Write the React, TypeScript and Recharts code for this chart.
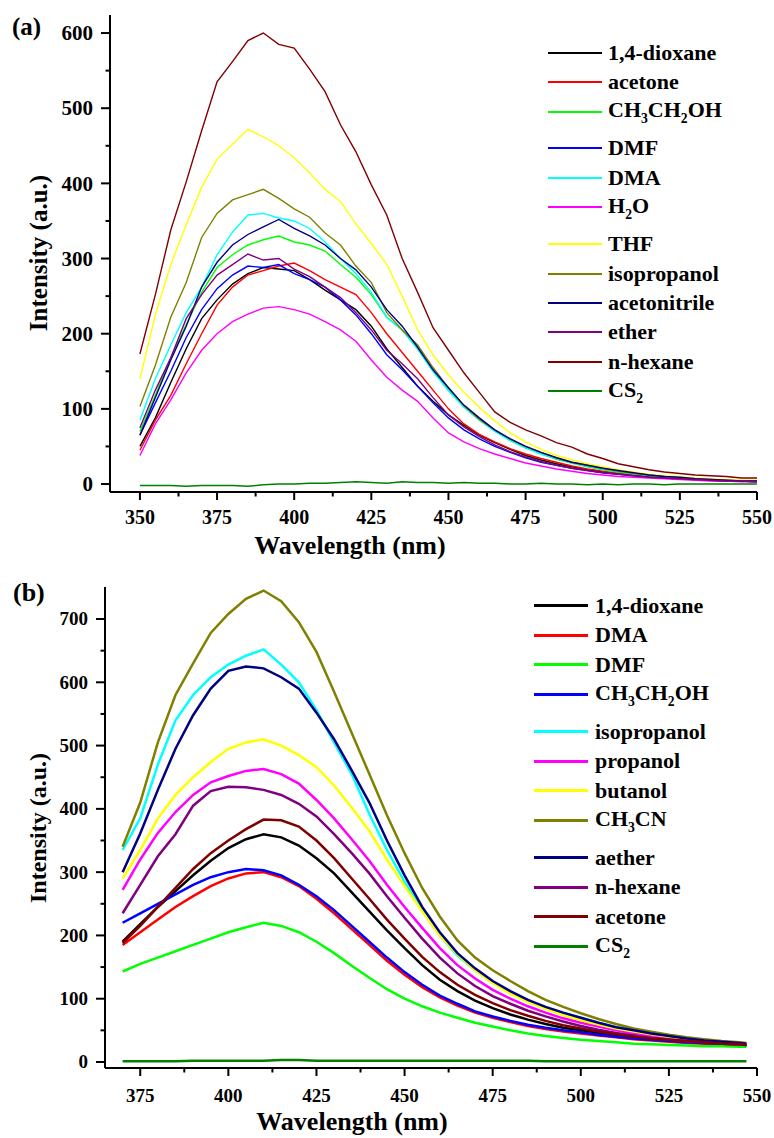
import React from 'react';
import { LineChart, Line, XAxis, YAxis } from 'recharts';

// ---------- panel (a) ----------
const wavelengthA = [350, 355, 360, 365, 370, 375, 380, 385, 390, 395, 400, 405, 410, 415, 420, 425, 430, 435, 440, 445, 450, 455, 460, 465, 470, 475, 480, 485, 490, 495, 500, 505, 510, 515, 520, 525, 530, 535, 540, 545, 550];

const dioxaneA = [50, 88, 135, 180, 220, 245, 266, 280, 288, 286, 284, 272, 258, 245, 232, 210, 180, 155, 130, 110, 92, 78, 65, 55, 46, 38, 32, 27, 23, 19, 16, 14, 12, 10, 8, 7, 6, 5, 4, 4, 3];
const acetoneA = [45, 85, 118, 160, 200, 238, 262, 278, 284, 290, 294, 284, 272, 262, 252, 228, 200, 175, 150, 125, 100, 80, 66, 56, 47, 40, 34, 29, 24, 20, 17, 14, 12, 10, 9, 7, 6, 5, 5, 4, 3];
const ethanolA = [70, 118, 168, 212, 255, 288, 305, 318, 325, 330, 322, 318, 310, 292, 275, 252, 222, 205, 180, 150, 125, 103, 86, 71, 58, 48, 40, 33, 28, 23, 19, 16, 13, 11, 9, 8, 6, 5, 5, 4, 3];
const dmfA = [65, 108, 150, 195, 232, 260, 278, 290, 288, 292, 280, 272, 262, 245, 225, 200, 172, 152, 130, 108, 88, 72, 60, 50, 42, 35, 29, 25, 21, 18, 15, 13, 11, 9, 8, 7, 6, 5, 4, 4, 3];
const dmaA = [85, 140, 185, 228, 262, 305, 335, 358, 360, 354, 350, 340, 322, 300, 280, 255, 222, 205, 180, 150, 124, 102, 85, 70, 58, 48, 40, 34, 28, 24, 20, 17, 14, 12, 10, 8, 7, 6, 5, 4, 3];
const waterA = [38, 80, 112, 148, 178, 200, 216, 226, 234, 236, 232, 226, 216, 205, 190, 165, 142, 125, 110, 88, 68, 56, 47, 40, 34, 28, 24, 20, 17, 14, 12, 10, 9, 8, 7, 6, 5, 4, 4, 3, 3];
const thfA = [140, 225, 292, 345, 395, 432, 452, 472, 462, 450, 434, 414, 392, 376, 346, 320, 292, 250, 205, 172, 145, 122, 102, 84, 68, 56, 46, 38, 32, 27, 23, 19, 16, 13, 11, 10, 8, 7, 6, 5, 5];
const isopropanolA = [103, 158, 222, 268, 328, 360, 378, 385, 392, 380, 366, 355, 334, 318, 290, 268, 228, 205, 185, 155, 128, 104, 86, 72, 60, 50, 42, 35, 29, 25, 21, 17, 14, 12, 10, 8, 7, 6, 5, 4, 4];
const acetonitrileA = [65, 115, 165, 210, 262, 295, 318, 332, 342, 352, 340, 330, 318, 300, 285, 262, 232, 210, 182, 152, 128, 105, 88, 72, 60, 50, 42, 35, 29, 25, 21, 18, 15, 12, 10, 9, 7, 6, 5, 4, 4];
const etherA = [75, 125, 168, 220, 252, 278, 292, 306, 298, 300, 286, 276, 262, 248, 228, 205, 178, 160, 140, 115, 92, 76, 63, 52, 43, 36, 30, 25, 21, 18, 15, 13, 11, 9, 8, 7, 6, 5, 4, 4, 3];
const hexaneA = [173, 252, 338, 402, 470, 535, 562, 590, 600, 585, 580, 552, 522, 478, 442, 398, 358, 300, 255, 208, 178, 148, 122, 96, 82, 72, 64, 55, 49, 40, 34, 27, 23, 19, 16, 14, 12, 11, 10, 8, 8];
const cs2A = [-2, -2, -2, -3, -2, -2, -2, -3, -1, 0, 0, 1, 1, 2, 3, 2, 1, 3, 2, 2, 1, 2, 1, 1, 0, 0, 1, 0, 0, -1, 0, -1, 0, 0, -1, 0, 0, 0, 0, 0, 0];

const namesA = ['1,4-dioxane', 'acetone', 'CH3CH2OH', 'DMF', 'DMA', 'H2O', 'THF', 'isopropanol', 'acetonitrile', 'ether', 'n-hexane', 'CS2'];
const valuesA = [dioxaneA, acetoneA, ethanolA, dmfA, dmaA, waterA, thfA, isopropanolA, acetonitrileA, etherA, hexaneA, cs2A];
const colorsA = ['#000000', '#ff0000', '#00ff00', '#0000ff', '#00ffff', '#ff00ff', '#ffff00', '#808000', '#000080', '#800080', '#800000', '#008000'];

const xTicksA = [350, 362.5, 375, 387.5, 400, 412.5, 425, 437.5, 450, 462.5, 475, 487.5, 500, 512.5, 525, 537.5, 550];
const yTicksA = [0, 50, 100, 150, 200, 250, 300, 350, 400, 450, 500, 550, 600];

// ---------- panel (b) ----------
const wavelengthB = [370, 375, 380, 385, 390, 395, 400, 405, 410, 415, 420, 425, 430, 435, 440, 445, 450, 455, 460, 465, 470, 475, 480, 485, 490, 495, 500, 505, 510, 515, 520, 525, 530, 535, 540, 545, 547];

const dioxaneB = [190, 218, 245, 270, 295, 318, 338, 352, 360, 355, 342, 322, 298, 268, 238, 208, 180, 153, 130, 112, 97, 85, 75, 67, 60, 54, 50, 46, 42, 39, 36, 34, 32, 30, 29, 28, 27];
const dmaB = [185, 205, 225, 245, 262, 278, 290, 298, 300, 292, 278, 258, 235, 210, 185, 160, 138, 118, 102, 89, 78, 70, 63, 57, 52, 48, 45, 42, 39, 36, 34, 32, 30, 29, 28, 27, 27];
const dmfB = [143, 155, 165, 175, 185, 195, 205, 213, 220, 215, 205, 190, 172, 152, 133, 115, 100, 88, 78, 70, 62, 56, 50, 45, 41, 38, 35, 33, 31, 29, 28, 27, 26, 25, 25, 24, 24];
const ethanolB = [220, 235, 250, 265, 280, 292, 300, 305, 303, 295, 280, 262, 240, 215, 190, 165, 142, 122, 105, 92, 80, 72, 65, 59, 54, 50, 47, 43, 40, 37, 35, 33, 31, 30, 29, 28, 27];
const isopropanolB = [335, 385, 470, 540, 580, 608, 628, 642, 652, 628, 600, 556, 505, 455, 392, 335, 285, 240, 200, 168, 145, 125, 110, 97, 86, 77, 70, 62, 55, 50, 45, 41, 37, 34, 32, 30, 29];
const propanolB = [272, 320, 362, 395, 422, 442, 452, 460, 463, 455, 440, 414, 385, 352, 318, 280, 245, 212, 180, 153, 132, 114, 100, 88, 78, 69, 62, 56, 50, 45, 41, 38, 35, 32, 30, 28, 28];
const butanolB = [290, 335, 385, 422, 450, 474, 495, 505, 510, 500, 485, 466, 437, 402, 365, 320, 278, 238, 200, 170, 145, 125, 108, 95, 84, 74, 66, 59, 53, 48, 44, 40, 37, 34, 32, 30, 29];
const ch3cnB = [340, 410, 505, 580, 630, 678, 708, 732, 745, 728, 695, 648, 585, 520, 455, 390, 330, 275, 230, 192, 165, 145, 128, 112, 98, 87, 77, 68, 60, 53, 48, 43, 39, 36, 33, 31, 30];
const aetherB = [300, 361, 430, 495, 548, 590, 618, 625, 622, 608, 590, 552, 510, 461, 410, 350, 295, 245, 205, 172, 148, 128, 112, 98, 87, 78, 70, 62, 55, 50, 45, 41, 37, 34, 32, 30, 29];
const hexaneB = [235, 280, 325, 360, 405, 428, 435, 434, 430, 422, 408, 388, 360, 330, 298, 262, 228, 195, 165, 140, 120, 104, 92, 81, 72, 64, 57, 51, 46, 42, 38, 35, 33, 31, 29, 28, 27];
const acetoneB = [188, 215, 245, 275, 305, 330, 350, 368, 383, 382, 372, 350, 322, 290, 258, 225, 195, 166, 142, 122, 106, 93, 82, 73, 65, 58, 53, 48, 44, 40, 37, 35, 33, 31, 29, 28, 27];
const cs2B = [1, 1, 1, 1, 2, 2, 2, 2, 2, 3, 3, 2, 2, 2, 2, 2, 2, 2, 2, 2, 2, 2, 2, 2, 1, 1, 1, 1, 1, 1, 1, 1, 1, 1, 1, 1, 1];

const namesB = ['1,4-dioxane', 'DMA', 'DMF', 'CH3CH2OH', 'isopropanol', 'propanol', 'butanol', 'CH3CN', 'aether', 'n-hexane', 'acetone', 'CS2'];
const valuesB = [dioxaneB, dmaB, dmfB, ethanolB, isopropanolB, propanolB, butanolB, ch3cnB, aetherB, hexaneB, acetoneB, cs2B];
const colorsB = ['#000000', '#ff0000', '#00ff00', '#0000ff', '#00ffff', '#ff00ff', '#ffff00', '#808000', '#000080', '#800080', '#800000', '#008000'];

const xTicksB = [375, 387.5, 400, 412.5, 425, 437.5, 450, 462.5, 475, 487.5, 500, 512.5, 525, 537.5, 550];
const yTicksB = [0, 50, 100, 150, 200, 250, 300, 350, 400, 450, 500, 550, 600, 650, 700];

const FONT = '"Liberation Serif", "Times New Roman", serif';

const buildRows = (xs: number[], series: number[][]) =>
  xs.map((w, i) => {
    const row: any = { w };
    series.forEach((s, k) => (row['s' + k] = s[i]));
    return row;
  });

// chemical formula -> subscript digits (but leave "1,4-dioxane" alone)
const Formula = ({ text }: { text: string }) => {
  if (!/^[A-Z]/.test(text) || !/\d/.test(text)) return <>{text}</>;
  const parts = text.split(/(\d+)/).filter(Boolean);
  return (
    <>
      {parts.map((p, i) =>
        /^\d+$/.test(p) ? (
          <span key={i} style={{ fontSize: '0.62em', position: 'relative', top: '0.45em' }}>{p}</span>
        ) : (
          <span key={i}>{p}</span>
        )
      )}
    </>
  );
};

const hasSub = (t: string) => /^[A-Z]/.test(t) && /\d/.test(t);

const makeXTick = (fs: number, off: number) => (props: any) => {
  const { x, y, payload } = props;
  const major = payload.value % 25 === 0;
  return (
    <g>
      <line x1={x} y1={y} x2={x} y2={y + (major ? 8 : 4.5)} stroke="#000" strokeWidth={2} />
      {major && (
        <text x={x} y={y + off} textAnchor="middle" fontFamily={FONT} fontWeight="bold" fontSize={fs} fill="#000">
          {payload.value}
        </text>
      )}
    </g>
  );
};

const makeYTick = (fs: number) => (props: any) => {
  const { x, y, payload } = props;
  const major = payload.value % 100 === 0;
  return (
    <g>
      <line x1={x} y1={y} x2={x - (major ? 9 : 4.5)} y2={y} stroke="#000" strokeWidth={2} />
      {major && (
        <text x={x - 17} y={y + fs * 0.34} textAnchor="end" fontFamily={FONT} fontWeight="bold" fontSize={fs} fill="#000">
          {payload.value}
        </text>
      )}
    </g>
  );
};

const Legend = ({ names, colors, lineLeft, textLeft, startY, step, extra, lineW, fs }: any) => {
  let cy = startY;
  return (
    <>
      {names.map((n: string, i: number) => {
        const y = cy;
        cy += step + (hasSub(n) ? extra : 0);
        return (
          <div key={n + i} style={{ position: 'absolute', left: lineLeft, top: y - 15, height: 30, display: 'flex', alignItems: 'center' }}>
            <div style={{ width: 54, height: lineW, background: colors[i] }} />
            <span style={{ marginLeft: textLeft - lineLeft - 54, fontFamily: FONT, fontWeight: 'bold', fontSize: fs, lineHeight: '30px', whiteSpace: 'nowrap', color: '#000' }}>
              <Formula text={n} />
            </span>
          </div>
        );
      })}
    </>
  );
};

const textStyle = (fs: number): React.CSSProperties => ({
  position: 'absolute',
  fontFamily: FONT,
  fontWeight: 'bold',
  fontSize: fs,
  color: '#000',
  whiteSpace: 'nowrap',
  lineHeight: 1,
});

export default function App() {
  const dataA = buildRows(wavelengthA, valuesA);
  const dataB = buildRows(wavelengthB, valuesB);

  return (
    <div style={{ position: 'absolute', left: 0, top: 0, width: 774, height: 1138, background: '#fff' }}>
      {/* panel (a) */}
      <div style={{ position: 'absolute', left: 0, top: 0 }}>
        <LineChart width={774} height={560} data={dataA} margin={{ top: 15, right: 17, left: 50, bottom: 38 }}>
          <XAxis
            dataKey="w"
            type="number"
            domain={[340.3, 550]}
            ticks={xTicksA}
            interval={0}
            tickSize={0}
            tickMargin={0}
            height={30}
            axisLine={{ stroke: '#000', strokeWidth: 2 }}
            tickLine={false}
            tick={makeXTick(20, 32)}
          />
          <YAxis
            type="number"
            domain={[-10.6, 624]}
            ticks={yTicksA}
            interval={0}
            tickSize={0}
            tickMargin={0}
            width={60}
            axisLine={{ stroke: '#000', strokeWidth: 2 }}
            tickLine={false}
            tick={makeYTick(21)}
          />
          {namesA.map((n, k) => (
            <Line key={n} dataKey={'s' + k} stroke={colorsA[k]} strokeWidth={1.4} dot={false} type="linear" isAnimationActive={false} />
          ))}
        </LineChart>
      </div>
      <div style={{ ...textStyle(25), left: 12, top: 14 }}>(a)</div>
      <div style={{ ...textStyle(25), left: 38, top: 253, transform: 'translate(-50%, -50%) rotate(-90deg)' }}>Intensity (a.u.)</div>
      <div style={{ ...textStyle(26), left: 350, top: 546, transform: 'translate(-50%, -50%)' }}>Wavelength (nm)</div>
      <Legend names={namesA} colors={colorsA} lineLeft={548} textLeft={608} startY={52.7} step={29.4} extra={7.5} lineW={2} fs={22} />

      {/* panel (b) */}
      <div style={{ position: 'absolute', left: 0, top: 560 }}>
        <LineChart width={774} height={578} data={dataB} margin={{ top: 27, right: 17, left: 45, bottom: 40 }}>
          <XAxis
            dataKey="w"
            type="number"
            domain={[365, 550]}
            ticks={xTicksB}
            interval={0}
            tickSize={0}
            tickMargin={0}
            height={30}
            axisLine={{ stroke: '#000', strokeWidth: 2 }}
            tickLine={false}
            tick={makeXTick(19, 34)}
          />
          <YAxis
            type="number"
            domain={[-9.5, 750.6]}
            ticks={yTicksB}
            interval={0}
            tickSize={0}
            tickMargin={0}
            width={60}
            axisLine={{ stroke: '#000', strokeWidth: 2 }}
            tickLine={false}
            tick={makeYTick(19)}
          />
          {namesB.map((n, k) => (
            <Line key={n} dataKey={'s' + k} stroke={colorsB[k]} strokeWidth={2.5} dot={false} type="linear" isAnimationActive={false} />
          ))}
        </LineChart>
      </div>
      <div style={{ ...textStyle(26), left: 13, top: 580 }}>(b)</div>
      <div style={{ ...textStyle(24), left: 38, top: 828, transform: 'translate(-50%, -50%) rotate(-90deg)' }}>Intensity (a.u.)</div>
      <div style={{ ...textStyle(26), left: 352, top: 1122, transform: 'translate(-50%, -50%)' }}>Wavelength (nm)</div>
      <Legend names={namesB} colors={colorsB} lineLeft={534} textLeft={595} startY={605.7} step={29.5} extra={8} lineW={3} fs={22} />
    </div>
  );
}
